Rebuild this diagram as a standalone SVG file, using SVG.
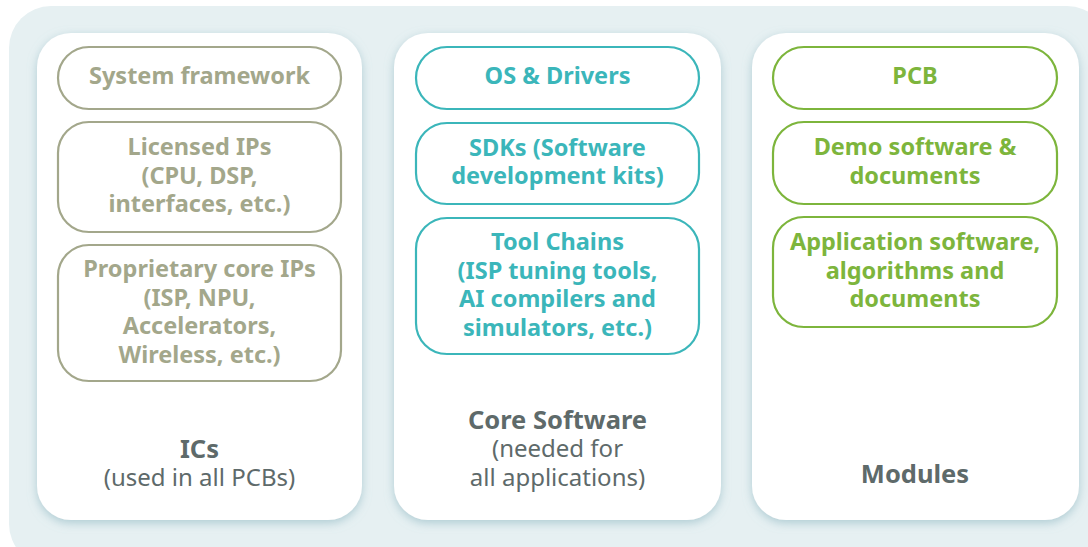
<svg xmlns="http://www.w3.org/2000/svg" width="1088" height="547" viewBox="0 0 1088 547">
  <defs>
    <filter id="cardShadow" x="-10%" y="-10%" width="120%" height="120%">
      <feGaussianBlur in="SourceAlpha" stdDeviation="5"/>
      <feOffset dx="0" dy="3" result="b"/>
      <feFlood flood-color="#9cc0c9" flood-opacity="0.75"/>
      <feComposite in2="b" operator="in"/>
      <feMerge>
        <feMergeNode/>
        <feMergeNode in="SourceGraphic"/>
      </feMerge>
    </filter>
  </defs>
  <style>
    .panel { fill: #e6f0f2; }
    .card { fill: #ffffff; filter: url(#cardShadow); }
    .pill { fill: #ffffff; stroke-width: 2.2; }
    .ic .pill { stroke: #a3a78b; }
    .ic .lbl { fill: #a3a78b; }
    .sw .pill { stroke: #3bb6ba; }
    .sw .lbl { fill: #3bb6ba; }
    .mod .pill { stroke: #7db53c; }
    .mod .lbl { fill: #7db53c; }
    text { font-family: "Noto Sans", "Open Sans", "Liberation Sans", sans-serif; text-anchor: middle; }
    .lbl { font-size: 23.5px; font-weight: 700; }
    .title { font-size: 25.5px; font-weight: 700; fill: #5e6a6a; }
    .sub { font-size: 24px; font-weight: 400; fill: #5e6a6a; }
  </style>

  <!-- backdrop panel -->
  <rect class="panel" x="9" y="6" width="1100" height="560" rx="42"/>

  <!-- column: ICs -->
  <g id="col-ics" class="ic">
    <rect class="card" x="37" y="33" width="325" height="487" rx="34"/>
    <g id="node-system-framework">
      <rect class="pill" x="58" y="47" width="283" height="62" rx="31"/>
      <text class="lbl" x="199.5" y="84">System framework</text>
    </g>
    <g id="node-licensed-ips">
      <rect class="pill" x="58" y="122" width="283" height="110" rx="31"/>
      <text class="lbl" x="199.5" y="155">Licensed IPs</text>
      <text class="lbl" x="199.5" y="183.5">(CPU, DSP,</text>
      <text class="lbl" x="199.5" y="212">interfaces, etc.)</text>
    </g>
    <g id="node-proprietary-ips">
      <rect class="pill" x="58" y="245" width="283" height="136" rx="31"/>
      <text class="lbl" x="199.5" y="277">Proprietary core IPs</text>
      <text class="lbl" x="199.5" y="305.5">(ISP, NPU,</text>
      <text class="lbl" x="199.5" y="334">Accelerators,</text>
      <text class="lbl" x="199.5" y="362.5">Wireless, etc.)</text>
    </g>
    <text class="title" x="199.5" y="458">ICs</text>
    <text class="sub" x="199.5" y="486">(used in all PCBs)</text>
  </g>

  <!-- column: Core Software -->
  <g id="col-core-software" class="sw">
    <rect class="card" x="394" y="33" width="327" height="487" rx="34"/>
    <g id="node-os-drivers">
      <rect class="pill" x="416" y="47" width="283" height="62" rx="31"/>
      <text class="lbl" x="557.5" y="84">OS &amp; Drivers</text>
    </g>
    <g id="node-sdks">
      <rect class="pill" x="416" y="123" width="283" height="81" rx="31"/>
      <text class="lbl" x="557.5" y="155.5">SDKs (Software</text>
      <text class="lbl" x="557.5" y="184">development kits)</text>
    </g>
    <g id="node-tool-chains">
      <rect class="pill" x="416" y="218" width="283" height="136" rx="31"/>
      <text class="lbl" x="557.5" y="250">Tool Chains</text>
      <text class="lbl" x="557.5" y="278.5">(ISP tuning tools,</text>
      <text class="lbl" x="557.5" y="307">AI compilers and</text>
      <text class="lbl" x="557.5" y="335.5">simulators, etc.)</text>
    </g>
    <text class="title" x="557.5" y="429">Core Software</text>
    <text class="sub" x="557.5" y="457">(needed for</text>
    <text class="sub" x="557.5" y="486">all applications)</text>
  </g>

  <!-- column: Modules -->
  <g id="col-modules" class="mod">
    <rect class="card" x="752" y="33" width="327" height="487" rx="34"/>
    <g id="node-pcb">
      <rect class="pill" x="773" y="47" width="284" height="62" rx="31"/>
      <text class="lbl" x="915" y="84">PCB</text>
    </g>
    <g id="node-demo-software">
      <rect class="pill" x="773" y="122" width="284" height="82" rx="31"/>
      <text class="lbl" x="915" y="155">Demo software &amp;</text>
      <text class="lbl" x="915" y="183.5">documents</text>
    </g>
    <g id="node-application-software">
      <rect class="pill" x="773" y="217" width="284" height="110" rx="31"/>
      <text class="lbl" x="915" y="250">Application software,</text>
      <text class="lbl" x="915" y="278.5">algorithms and</text>
      <text class="lbl" x="915" y="307">documents</text>
    </g>
    <text class="title" x="915" y="483">Modules</text>
  </g>

  <!-- no connectors in this layout -->
  <g id="connectors"/>
</svg>
